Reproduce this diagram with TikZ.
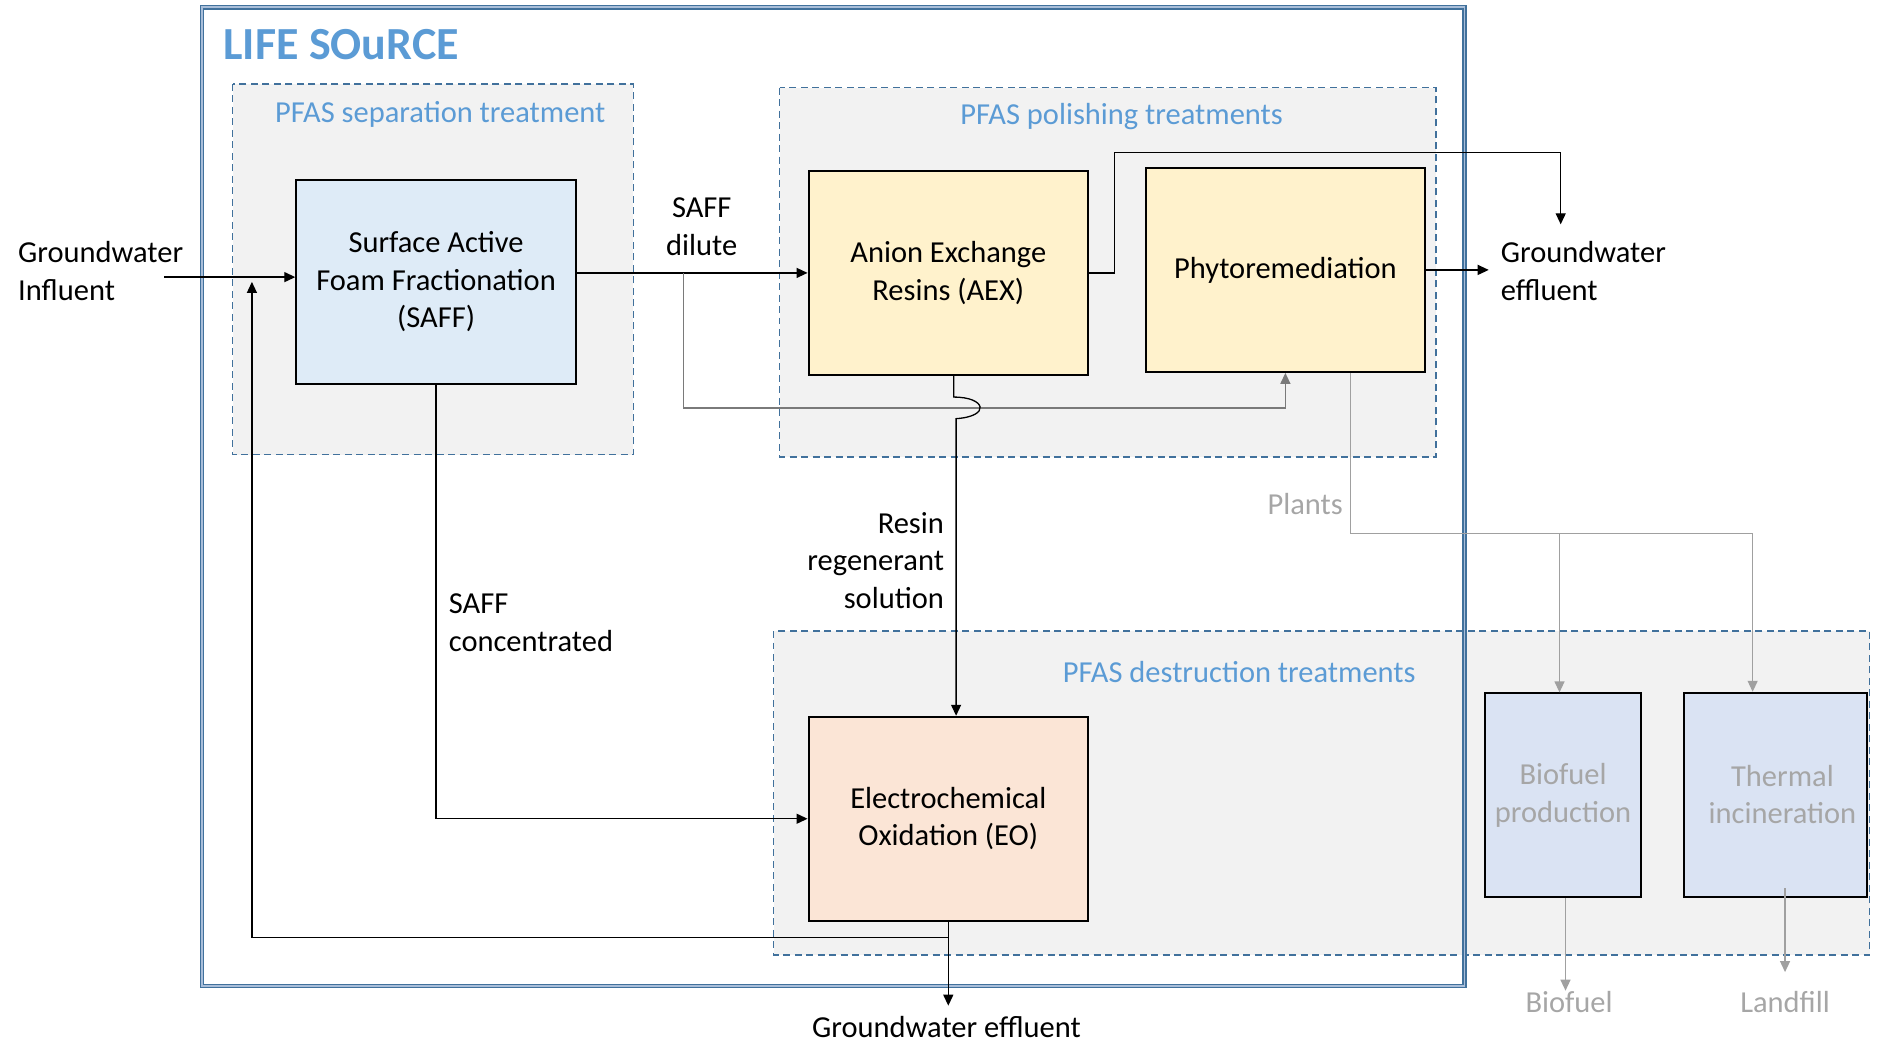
\documentclass[tikz,border=0pt]{standalone}
\usepackage{fontspec}
\setmainfont{Carlito}
\usetikzlibrary{arrows.meta,calc}
\definecolor{grpblue}{HTML}{41719C}
\definecolor{lblblue}{HTML}{5B9BD5}
\definecolor{grpfill}{HTML}{F2F2F2}
\definecolor{saffill}{HTML}{DEEBF7}
\definecolor{polfill}{HTML}{FFF2CC}
\definecolor{eofill}{HTML}{FBE5D6}
\definecolor{offfill}{HTML}{DAE3F3}
\definecolor{offtext}{HTML}{A6A6A6}
\definecolor{offline}{HTML}{A0A0A0}
\definecolor{bypass}{HTML}{7A7A7A}
\definecolor{dblgap}{HTML}{A9BED9}

\begin{document}
\begin{tikzpicture}[x=1.2pt,y=-1.2pt,
  every node/.style={font=\fontsize{30.5}{37.5}\selectfont},
  groupbox/.style={fill=grpfill,draw=grpblue,line width=1.3pt,dash pattern=on 7pt off 4.5pt},
  grouplabel/.style={text=lblblue,inner sep=0pt},
  process/.style={draw=black,line width=2pt,minimum width=279.6pt,minimum height=204pt,align=center,inner sep=2pt},
  txt/.style={inner sep=0pt},
  flow/.style={line width=1.3pt,-{Triangle[length=11pt,width=10pt]}},
  offflow/.style={draw=offline,line width=1.3pt,-{Triangle[length=11pt,width=10pt]}},
]
\useasboundingbox (0,0) rectangle (1568,869);

% treatment groups
\path[groupbox] (194,70) rectangle (528,379);
\path[groupbox] (650,73) rectangle (1197,381);
\path[groupbox] (645,526) rectangle (1558.5,796);
\node[grouplabel] (seplbl) at (367,95) {PFAS separation treatment};
\node[grouplabel] (pollbl) at (935,97) {PFAS polishing treatments};
\node[grouplabel] (deslbl) at (1033,560) {PFAS destruction treatments};

% project boundary
\draw[grpblue,line width=1.6pt,double=dblgap,double distance=1.5pt] (168.5,6) rectangle (1221,822);
\node[txt,anchor=west,text=lblblue,font=\fontsize{46}{55}\selectfont\bfseries] (title) at (186,37.5) {LIFE SOuRCE};

% process units
\node[process,fill=saffill] (saff) at (363.5,235) {Surface Active\\Foam Fractionation\\(SAFF)};
\node[process,fill=polfill] (aex) at (790.5,227.5) {Anion Exchange\\Resins (AEX)};
\node[process,fill=polfill] (phyto) at (1071.5,225) {Phytoremediation};
\node[process,fill=eofill] (eo) at (790.5,682.5) {Electrochemical\\Oxidation (EO)};
\node[process,fill=offfill,text=offtext,minimum width=156pt] (bioprod) at (1303,663) {Biofuel\\production};
\node[process,fill=offfill,text=offtext,minimum width=183pt] (thermal) at (1480,662.5)
  {\hspace*{14pt}Thermal\\\hspace*{14pt}incineration};

% stream labels
\node[txt,align=left,anchor=west] (gwin) at (15,226) {Groundwater\\Influent};
\node[txt,align=center] (saffdil) at (585,189) {SAFF\\dilute};
\node[txt,align=left,anchor=west] (gwout) at (1251,226) {Groundwater\\effluent};
\node[txt,align=right,anchor=east] (resin) at (787,467) {Resin\\regenerant\\solution};
\node[txt,align=left,anchor=west] (saffcon) at (374,519) {SAFF\\concentrated};
\node[txt] (gwfinal) at (789,856) {Groundwater effluent};
\node[txt,text=offtext] (plants) at (1088,420) {Plants};
\node[txt,text=offtext] (biofuel) at (1308,835) {Biofuel};
\node[txt,text=offtext] (landfill) at (1488,835) {Landfill};

% main flows
\coordinate (infl) at (137,231);
\draw[flow] (infl) -- (infl -| saff.west);
\draw[flow] (saff.east |- aex.west) -- (aex.west);
\coordinate (split) at (570,227.5);
\draw[flow,draw=bypass] (split) -- (570,340) -| (phyto.south);
\draw[flow] ($(aex.south)+(4.5,0)$) -- (795,331)
  .. controls (822,331) and (826,347) .. (797,349) -- ($(eo.north)+(6.5,0)$);
\coordinate (gwtip) at (1301,187);
\draw[flow] (aex.east) -- ++(21,0) |- ($(gwtip)+(0,-60)$) -- (gwtip);
\draw[flow,shorten >=12pt] (phyto.east) -- (phyto.east -| gwout.west);
\draw[flow] (saff.south) |- (eo.west);
\draw[flow] (eo.south) -- ++(0,70);
\coordinate (rtip) at (210,235);
\draw[flow] ($(eo.south)+(0,13)$) -| (rtip);

% plant biomass routes
\coordinate (pstart) at ($(phyto.south)+(54.5,0)$);
\coordinate (psplit) at (1300,445);
\coordinate (pend) at (1461,445);
\draw[draw=offline,line width=1.3pt] (pstart) |- (psplit) -- (pend);
\draw[offflow] (psplit) -- (psplit |- bioprod.north);
\draw[offflow] (pend) -- (pend |- thermal.north);
\draw[offflow] ($(bioprod.south)+(2,0)$) -- ++(0,77);
\draw[offflow] ($(thermal.south)+(8,-8)$) -- ++(0,70);
\end{tikzpicture}
\end{document}
